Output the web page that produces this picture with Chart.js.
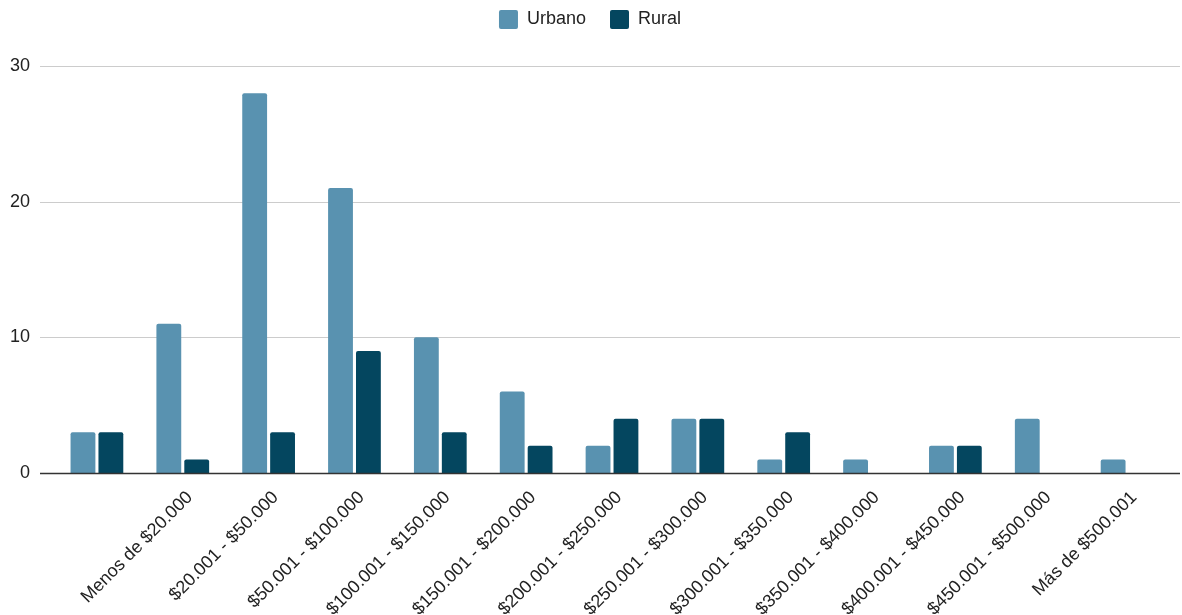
<!DOCTYPE html>
<html>
<head>
<meta charset="utf-8">
<script src="https://cdn.jsdelivr.net/npm/chart.js@4/dist/chart.umd.min.js"></script>
<style>
  html, body { margin: 0; padding: 0; background: #fff; }
  #wrap { width: 1182px; height: 615px; }
</style>
</head>
<body>
<div id="wrap"><canvas id="canvas"></canvas></div>
<script>
const categories = [
  "",
  "Menos de $20.000",
  "$20.001 - $50.000",
  "$50.001 - $100.000",
  "$100.001 - $150.000",
  "$150.001 - $200.000",
  "$200.001 - $250.000",
  "$250.001 - $300.000",
  "$300.001 - $350.000",
  "$350.001 - $400.000",
  "$400.001 - $450.000",
  "$450.001 - $500.000",
  "Más de $500.001"
]
const urbano = [3, 11, 28, 21, 10, 6, 2, 4, 1, 1, 2, 4, 1]
const rural = [3, 1, 3, 9, 3, 2, 4, 4, 3, 0, 2, 0, 0]
const yTicks = [0, 10, 20, 30]

const FONT = "'Liberation Sans', Arial, sans-serif"
const TEXT = "#222"

// horizontal rules run wider than the bar area, so they are drawn by hand
const rules = {
  id: "rules",
  beforeDatasetsDraw(chart) {
    const ctx = chart.ctx
    const y = chart.scales.y
    ctx.save()
    ctx.strokeStyle = "#cccccc"
    ctx.lineWidth = 1
    for (const t of yTicks) {
      if (t === 0) continue
      const py = Math.round(y.getPixelForValue(t)) + 0.5
      ctx.beginPath()
      ctx.moveTo(40, py)
      ctx.lineTo(1180, py)
      ctx.stroke()
    }
    ctx.restore()
  },
  afterDatasetsDraw(chart) {
    const ctx = chart.ctx
    const py = Math.round(chart.scales.y.getPixelForValue(0)) + 0.5
    ctx.save()
    ctx.strokeStyle = "#333333"
    ctx.lineWidth = 1.5
    ctx.beginPath()
    ctx.moveTo(40, py)
    ctx.lineTo(1180, py)
    ctx.stroke()
    ctx.restore()
  },
  afterLayout(chart) {
    // pull the legend up into the top padding
    chart.legend.top -= 27
    chart.legend.bottom -= 27
  }
}

const bar = (label, data, color) => ({
  label,
  data,
  backgroundColor: color,
  borderWidth: 0,
  borderRadius: { topLeft: 2, topRight: 2 },
  borderSkipped: "bottom",
  barPercentage: 0.89,
  categoryPercentage: 0.65
})

new Chart(document.getElementById("canvas"), {
  type: "bar",
  data: {
    labels: categories,
    datasets: [
      bar("Urbano", urbano, "#5992b0"),
      bar("Rural", rural, "#04465f")
    ]
  },
  plugins: [rules],
  options: {
    responsive: true,
    maintainAspectRatio: false,
    animation: false,
    layout: { padding: { left: 10, right: 12, top: 13, bottom: 0 } },
    plugins: {
      tooltip: { enabled: false },
      legend: {
        position: "top",
        align: "center",
        labels: {
          boxWidth: 19,
          boxHeight: 19,
          useBorderRadius: true,
          borderRadius: 2,
          padding: 24,
          color: TEXT,
          font: { family: FONT, size: 18 }
        }
      }
    },
    scales: {
      x: {
        grid: { display: false },
        border: { display: false },
        afterFit: s => { s.height = 142 },
        ticks: {
          autoSkip: false,
          minRotation: 45,
          maxRotation: 45,
          labelOffset: 7,
          padding: 6,
          color: TEXT,
          font: { family: FONT, size: 18 }
        }
      },
      y: {
        min: 0,
        max: 30,
        afterFit: s => { s.width = 44 },
        grid: { display: false, drawTicks: false },
        border: { display: false },
        afterBuildTicks: s => { s.ticks = yTicks.map(v => ({ value: v })) },
        ticks: {
          padding: 24,
          color: TEXT,
          font: { family: FONT, size: 18 }
        }
      }
    }
  }
})
</script>
</body>
</html>
